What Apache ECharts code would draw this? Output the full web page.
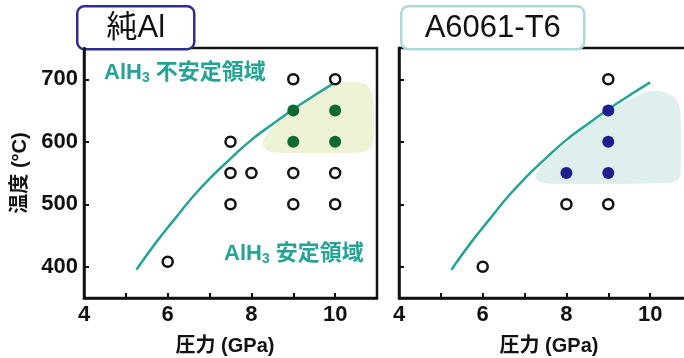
<!DOCTYPE html>
<html><head><meta charset="utf-8">
<script src="https://cdn.jsdelivr.net/npm/echarts@6/dist/echarts.min.js"></script>
<style>html,body{margin:0;padding:0;background:#fff;}#c{width:684px;height:358px;}</style>
</head><body><div id="c"></div>
<script>
// ---- data ----
const panelTitles = ['純Al', 'A6061-T6'];
const xTickValues = [5, 6, 7, 8, 9, 10];
const xLabelValues = [4, 6, 8, 10];
const yTickValues = [400, 500, 600, 700];
const boundaryCurve = [[5.25,395],[5.7,437],[6.15,475],[6.6,512],[7.0,541],[7.5,573],[8.0,603],[8.5,628],[9.0,652],[9.5,674],[10.0,695]];
// pure Al
const alOpen = [[9,700],[10,700],[7.5,600],[7.5,550],[8,550],[9,550],[10,550],[7.5,500],[9,500],[10,500],[6,408]];
const alFilled = [[9,650],[10,650],[9,600],[10,600]];
const alRegion = [[8.3,605],[8.6,630],[9.0,655],[9.5,677],[10.0,692],[10.5,696],[10.8,688],[10.92,660],[10.92,610],[10.85,590],[10.6,583],[9.0,582],[8.45,584],[8.28,592]];
// A6061-T6
const a6Open = [[9,700],[8,500],[9,500],[6,400]];
const a6Filled = [[9,650],[9,600],[8,550],[9,550]];
const a6Region = [[7.27,548],[7.6,575],[8.1,603],[8.6,630],[9.0,650],[9.5,668],[10.0,681],[10.4,678],[10.65,665],[10.73,640],[10.73,560],[10.68,540],[10.4,534],[7.6,533],[7.35,537]];
const unstableLabel = ['AlH', '3', ' 不安定領域'];
const stableLabel = ['AlH', '3', ' 安定領域'];

const FONT = "'Liberation Sans', 'Noto Sans CJK JP', sans-serif";
const NARROW = "'Liberation Sans Narrow', 'Liberation Sans', sans-serif";
const INK = '#111';
const TEAL = '#25a396';

function xAxis(gi, namePad) {
  return {
    type: 'value', gridIndex: gi, min: 4, max: 11, interval: 1,
    axisLine: { show: true, lineStyle: { color: INK, width: 2.5 } },
    axisTick: { show: true, inside: true, length: 5, customValues: xTickValues, lineStyle: { color: INK, width: 2 } },
    axisLabel: { customValues: xLabelValues, color: INK, fontSize: 22, fontWeight: 'bold', fontFamily: NARROW, margin: 6 },
    splitLine: { show: false },
    name: '圧力 (GPa)', nameLocation: 'middle', nameGap: 38,
    nameTextStyle: { color: INK, fontSize: 20, fontWeight: 'bold', fontFamily: FONT, padding: namePad }
  };
}
function yAxis(gi, withLabels) {
  return {
    type: 'value', gridIndex: gi, min: 350, max: 750, interval: 50,
    axisLine: { show: true, lineStyle: { color: INK, width: 2.5 } },
    axisTick: { show: true, inside: true, length: 5, customValues: yTickValues, lineStyle: { color: INK, width: 2 } },
    axisLabel: { show: withLabels, customValues: yTickValues, color: INK, fontSize: 22, fontWeight: 'bold', fontFamily: NARROW, margin: 6 },
    splitLine: { show: false },
    name: withLabels ? '温度 (°C)' : '', nameLocation: 'middle', nameGap: 54, nameRotate: 90,
    nameTextStyle: { color: INK, fontSize: 20, fontWeight: 'bold', fontFamily: FONT }
  };
}
function region(gi, pts, color) {
  return {
    type: 'custom', xAxisIndex: gi, yAxisIndex: gi, z: 1, silent: true,
    data: [[pts[0][0], pts[0][1]]],
    renderItem: function (params, api) {
      return { type: 'polygon', shape: { points: pts.map(p => api.coord(p)), smooth: 0.35 }, style: { fill: color } };
    }
  };
}
function curve(gi) {
  return { type: 'line', xAxisIndex: gi, yAxisIndex: gi, data: boundaryCurve, smooth: true, showSymbol: false, z: 3,
    lineStyle: { color: TEAL, width: 2.5 } };
}
function openPts(gi, d) {
  return { type: 'scatter', xAxisIndex: gi, yAxisIndex: gi, data: d, symbol: 'circle', symbolSize: 10, z: 4,
    itemStyle: { color: '#fff', borderColor: INK, borderWidth: 2.5, opacity: 1 } };
}
function filledPts(gi, d, color) {
  return { type: 'scatter', xAxisIndex: gi, yAxisIndex: gi, data: d, symbol: 'circle', symbolSize: 12, z: 4,
    itemStyle: { color: color, opacity: 1 } };
}
function titleBox(x, w, stroke, text) {
  return { type: 'group', left: x, top: 5, z: 100, children: [
    { type: 'rect', shape: { x: 0, y: 0, width: w, height: 43, r: 7 }, style: { fill: '#fff', stroke: stroke, lineWidth: 2.5 } },
    { type: 'text', x: w / 2, y: 22, style: { text: text, fontSize: 31, fontFamily: FONT, fill: INK, align: 'center', verticalAlign: 'middle' } }
  ]};
}
function regionLabel(x, y, parts) {
  return { type: 'text', left: x, top: y, z: 50, style: {
    text: '{a|' + parts[0] + '}{s|' + parts[1] + '}{a|' + parts[2] + '}',
    rich: {
      a: { fontSize: 22, fontWeight: 'bold', fontFamily: FONT, fill: TEAL, color: TEAL },
      s: { fontSize: 14, fontWeight: 'bold', fontFamily: FONT, fill: TEAL, color: TEAL, padding: [10, 0, 0, 0] }
    }
  }};
}

const chart = echarts.init(document.getElementById('c'), null, { renderer: 'canvas' });
chart.setOption({
  animation: false,
  backgroundColor: '#fff',
  grid: [
    { left: 84, top: 48, width: 293, height: 250, show: true, borderColor: INK, borderWidth: 2.5, backgroundColor: 'transparent', outerBoundsMode: 'none', containLabel: false },
    { left: 399, top: 48, width: 293, height: 250, show: true, borderColor: INK, borderWidth: 2.5, backgroundColor: 'transparent', outerBoundsMode: 'none', containLabel: false }
  ],
  xAxis: [xAxis(0, [0, 11, 0, 0]), xAxis(1, [0, 0, 0, 7])],
  yAxis: [yAxis(0, true), yAxis(1, false)],
  series: [
    region(0, alRegion, '#eef3d6'),
    region(1, a6Region, '#dfefee'),
    curve(0), curve(1),
    openPts(0, alOpen), filledPts(0, alFilled, '#0e6a32'),
    openPts(1, a6Open), filledPts(1, a6Filled, '#1c1f8c')
  ],
  graphic: [
    titleBox(76, 117, '#2f2f90', panelTitles[0]),
    titleBox(400, 183, '#a9d9d9', panelTitles[1]),
    regionLabel(104, 62, unstableLabel),
    regionLabel(224, 243, stableLabel)
  ]
});
</script></body></html>
